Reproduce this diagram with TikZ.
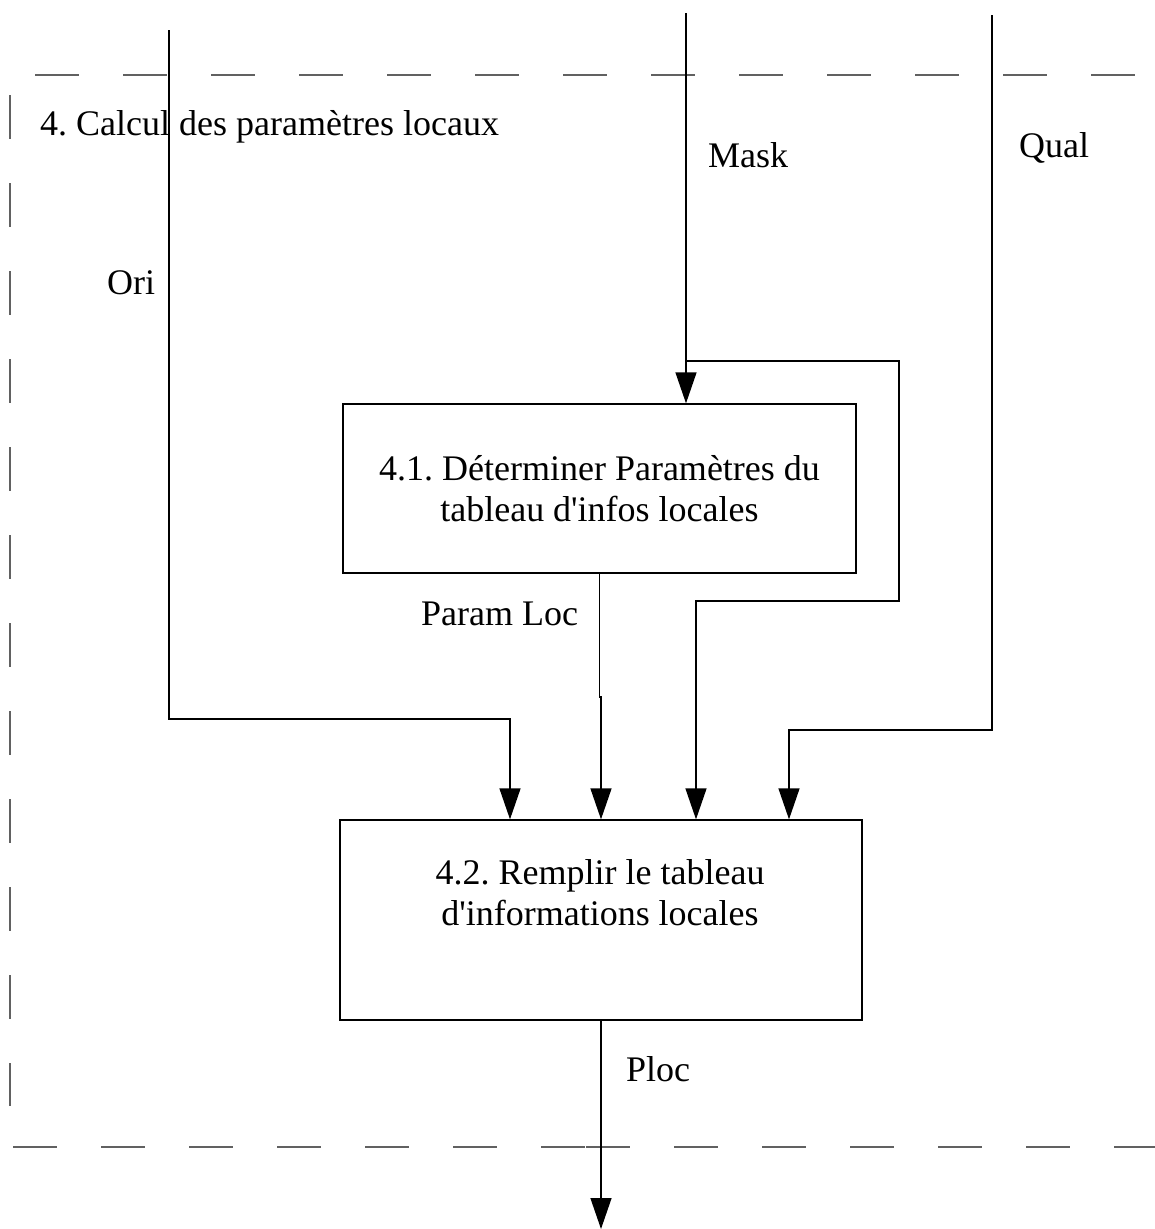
\documentclass[tikz,border=0pt]{standalone}
\usepackage{fontspec}
\setmainfont{Liberation Serif}
\usetikzlibrary{arrows.meta}
\frenchspacing

\tikzset{
  frame/.style={draw=black!62, line width=1.5pt, dash pattern=on 43.5pt off 44.5pt},
  flow/.style={draw=black, line width=1.3pt},
  arr/.style={flow, -{Triangle[length=31pt, width=21pt]}},
  procbox/.style={draw=black, line width=1.3pt, align=center, inner sep=0pt},
  lbl/.style={anchor=base west, inner sep=0pt},
}

\begin{document}
\begin{tikzpicture}[x=1pt, y=-1pt, font=\fontsize{36}{41}\selectfont]
  \useasboundingbox (0,0) rectangle (1155,1229);

  % dashed frame of the activity
  \draw[frame] (35,75) -- (1135,75);
  \draw[frame] (10,95) -- (10,1106);
  \draw[frame] (13,1147) -- (600,1147);
  \draw[frame] (586,1147) -- (1155,1147);

  \node[lbl] (title) at (40,135) {4. Calcul des paramètres locaux};

  % process boxes
  \node[procbox, minimum width=513pt, minimum height=169pt] (b1) at (599.5,488.5)
    {4.1. Déterminer Paramètres du\\tableau d\textquotesingle infos locales};
  \node[procbox, minimum width=522pt, minimum height=200pt] (b2) at (601,920) {};
  \node[align=center, inner sep=0pt] (b2text) at (600,893)
    {4.2. Remplir le tableau\\d\textquotesingle informations locales};

  % flow labels
  \node[lbl] (lmask) at (708,167) {Mask};
  \node[lbl] (lqual) at (1019,157) {Qual};
  \node[lbl] (lori) at (107,294) {Ori};
  \node[lbl] (lparam) at (421,625) {Param Loc};
  \node[lbl] (lploc) at (626,1081) {Ploc};

  % free ends and bend points of the flows
  \coordinate (oriTop) at (169,30);
  \coordinate (oriBend) at (510,719);
  \coordinate (maskTop) at (686,13);
  \coordinate (maskSplit) at (686,361);
  \coordinate (maskLoop) at (899,601);
  \coordinate (maskIn) at (696,601);
  \coordinate (qualTop) at (992,15);
  \coordinate (qualBend) at (789,730);
  \coordinate (plJog) at (601,697);
  \coordinate (plocEnd) at (601,1229);

  % flows
  \draw[arr] (oriTop) |- (oriBend) -- (oriBend |- b2.north);
  \draw[arr] (maskTop) -- (maskTop |- b1.north);
  \draw[arr] (maskSplit) -| (maskLoop) -- (maskIn) -- (maskIn |- b2.north);
  \draw[arr] (b1.south) |- (plJog) -- (plJog |- b2.north);
  \draw[arr] (qualTop) |- (qualBend) -- (qualBend |- b2.north);
  \draw[arr] (b2.south) -- (plocEnd);
\end{tikzpicture}
\end{document}
